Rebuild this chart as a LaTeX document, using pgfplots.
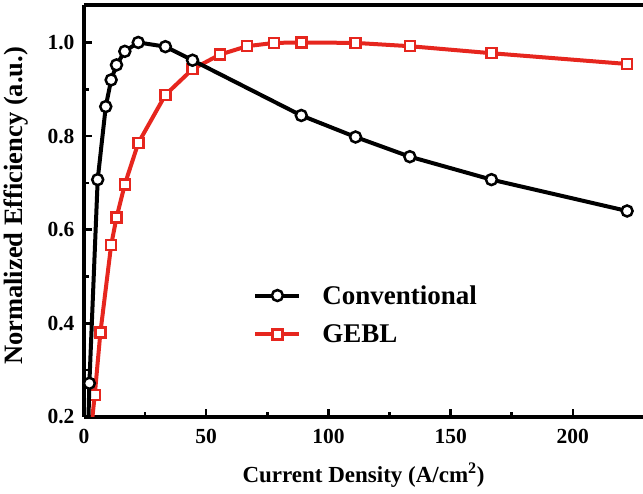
\documentclass[border=0pt]{standalone}
\usepackage{fontspec}
\setmainfont{Liberation Serif}
\usepackage{pgfplots}
\pgfplotsset{compat=1.18}
\definecolor{myred}{RGB}{230,38,30}
\begin{document}
\begin{tikzpicture}
\begin{axis}[
 scale only axis, width=559pt, height=412pt,
 xmin=0, xmax=228.7, ymin=0.2, ymax=1.08,
 axis x line*=box, axis y line*=left,
 xtick={0,50,100,150,200}, minor x tick num=1,
 ytick={0.2,0.4,0.6,0.8,1.0}, minor y tick num=1,
 xtick pos=left, ytick pos=left,
 tick align=inside,
 major tick length=8pt, minor tick length=5pt,
 every tick/.style={line width=2.5pt, black},
 axis line style={line width=3.5pt},
 /pgf/number format/assume math mode=true,
 yticklabel style={/pgf/number format/fixed, /pgf/number format/fixed zerofill, /pgf/number format/precision=1, xshift=-6pt},
 xticklabel style={yshift=-9pt},
 ticklabel style={font=\fontsize{21.5}{21.5}\selectfont\bfseries},
 xlabel={Current Density (A/cm\textsuperscript{2})},
 ylabel={Normalized Efficiency (a.u.)},
 xlabel style={font=\fontsize{23}{23}\selectfont\bfseries, at={(axis description cs:0.5,0)}, anchor=base, yshift=-66pt},
 ylabel style={font=\fontsize{26.5}{26.5}\selectfont\bfseries, at={(axis description cs:0,0.5)}, anchor=center, yshift=68pt, xshift=5pt},
 clip marker paths=true,
 reverse legend,
 legend style={at={(axis cs:68,0.49)}, anchor=north west, draw=none, fill=none,
   font=\fontsize{27}{27}\selectfont\bfseries, row sep=15pt, /tikz/column sep=19pt},
 legend cell align=left,
 legend image code/.code={\draw[mark repeat=2,mark phase=2] plot coordinates {(0pt,0pt) (22pt,0pt) (44pt,0pt)};},
]
\addplot[myred, line width=4pt, mark=square*, mark options={fill=white, line width=2.5pt, solid}, mark size=5pt]
 coordinates {
 (2.2,0.138) (4.4,0.247) (6.7,0.380) (11.1,0.567) (13.3,0.626) (16.7,0.697) (22.2,0.785)
 (33.3,0.888) (44.4,0.943) (55.6,0.974) (66.7,0.992) (77.8,0.999) (88.9,1.0)
 (111.1,0.999) (133.3,0.992) (166.7,0.977) (222.2,0.954)
 };
\addlegendentry{GEBL}
\addplot[black, line width=4pt, mark=*, mark options={fill=white, line width=2.5pt, solid}, mark size=5.5pt]
 coordinates {
 (1.1,0.05) (2.2,0.272) (5.6,0.707) (8.9,0.863) (11.1,0.920) (13.3,0.952) (16.7,0.981)
 (22.2,1.0) (33.3,0.991) (44.4,0.962) (88.9,0.844) (111.1,0.798) (133.3,0.756)
 (166.7,0.707) (222.2,0.640)
 };
\addlegendentry{Conventional}
\path (rel axis cs:0,0) coordinate (bl) (rel axis cs:1,1) coordinate (tr);
\end{axis}
\pgfresetboundingbox
\path ([xshift=-84pt,yshift=-77pt]bl) rectangle ([yshift=5pt]tr);
\end{tikzpicture}
\end{document}
